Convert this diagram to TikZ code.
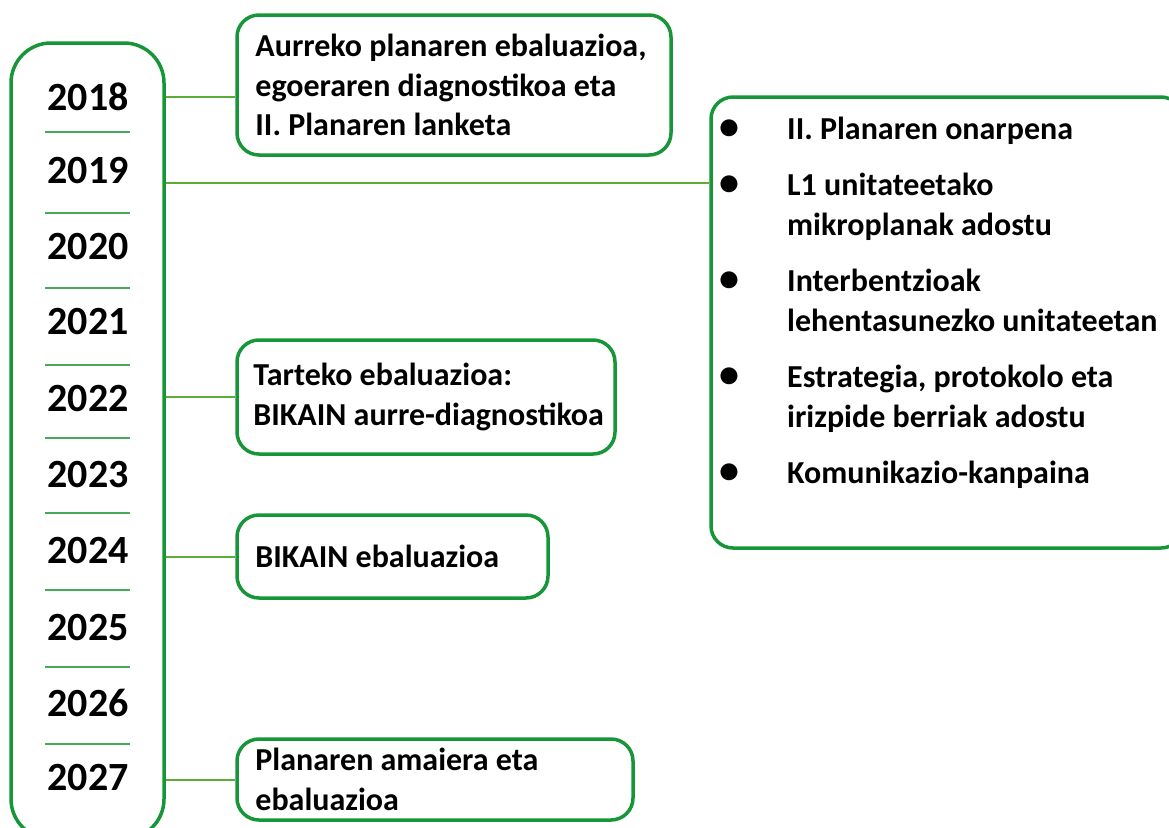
\documentclass[tikz,border=0pt]{standalone}
\usepackage{fontspec}
\setmainfont{Carlito}
\usetikzlibrary{positioning}
\definecolor{framegreen}{RGB}{22,150,56}
\definecolor{linkgreen}{RGB}{92,172,56}
\definecolor{rulegreen}{RGB}{70,170,90}
\newcommand{\bigdot}{{\fontsize{40}{39.5}\selectfont\textbullet}}

\begin{document}
\begin{tikzpicture}[x=1pt,y=-1pt,
    yearbar/.style={draw=framegreen, line width=3.5pt, rounded corners=40pt, minimum width=153pt, minimum height=796pt, inner sep=0pt},
    yearlabel/.style={font=\fontsize{40}{48}\selectfont\bfseries, inner sep=0pt},
    planbox/.style={draw=framegreen, line width=3.5pt, rounded corners=22pt, inner sep=0pt},
    plantext/.style={font=\fontsize{32}{39.5}\selectfont\bfseries, align=left, inner sep=0pt},
    linkline/.style={draw=linkgreen, line width=2pt},
    yearrule/.style={draw=rulegreen, line width=1.5pt}]
    \path[use as bounding box, clip] (0,0) rectangle (1169,827);
    % years
    \node[yearbar] (yearbar) at (87.5,441) {};
    \foreach \yr/\ypos in {2018/97, 2019/171, 2020/247, 2021/322, 2022/399, 2023/475, 2024/551, 2025/628, 2026/703, 2027/778}
        \node[yearlabel] (y\yr) at (88,\ypos) {\yr};
    \foreach \ypos in {132,213,288,365,438,513,590,667,744}
        \draw[yearrule] (45,\ypos) -- (130,\ypos);
    % boxes
    \node[planbox, minimum width=434pt, minimum height=140pt] (reviewbox) at (454,85) {};
    \node[plantext, right=20pt of reviewbox.west] (reviewtext) {Aurreko planaren ebaluazioa,\\egoeraren diagnostikoa eta\\II. Planaren lanketa};
    \node[planbox, minimum width=378pt, minimum height=114pt] (midbox) at (426,397) {};
    \node[plantext, right=18pt of midbox.west] (midtext) {Tarteko ebaluazioa:\\BIKAIN aurre-diagnostikoa};
    \node[planbox, minimum width=311pt, minimum height=83pt] (bikainbox) at (392.5,556.5) {};
    \node[plantext, right=20pt of bikainbox.west] (bikaintext) {BIKAIN ebaluazioa};
    \node[planbox, minimum width=396pt, minimum height=81pt] (closebox) at (435,779.5) {};
    \node[plantext, right=20pt of closebox.west] (closetext) {Planaren amaiera eta\\ebaluazioa};
    \node[planbox, minimum width=472pt, minimum height=451pt] (actionbox) at (947,322.5) {};
    \node[plantext, anchor=base west] (actionlist) at (719,139) {\begin{tabular}[t]{@{}p{68pt}@{}l@{}}
        \bigdot & II. Planaren onarpena\\[17pt]
        \bigdot & L1 unitateetako\\
                & mikroplanak adostu\\[17pt]
        \bigdot & Interbentzioak\\
                & lehentasunezko unitateetan\\[17pt]
        \bigdot & Estrategia, protokolo eta\\
                & irizpide berriak adostu\\[17pt]
        \bigdot & Komunikazio-kanpaina
    \end{tabular}};
    % links
    \coordinate (link2019) at ([yshift=-12pt]y2019.center);
    \draw[linkline] (yearbar.east |- y2018) -- (reviewbox.west |- y2018);
    \draw[linkline] (yearbar.east |- link2019) -- (actionbox.west |- link2019);
    \draw[linkline] (yearbar.east |- midbox.west) -- (midbox.west);
    \draw[linkline] (yearbar.east |- bikainbox.west) -- (bikainbox.west);
    \draw[linkline] (yearbar.east |- closebox.west) -- (closebox.west);
\end{tikzpicture}
\end{document}
